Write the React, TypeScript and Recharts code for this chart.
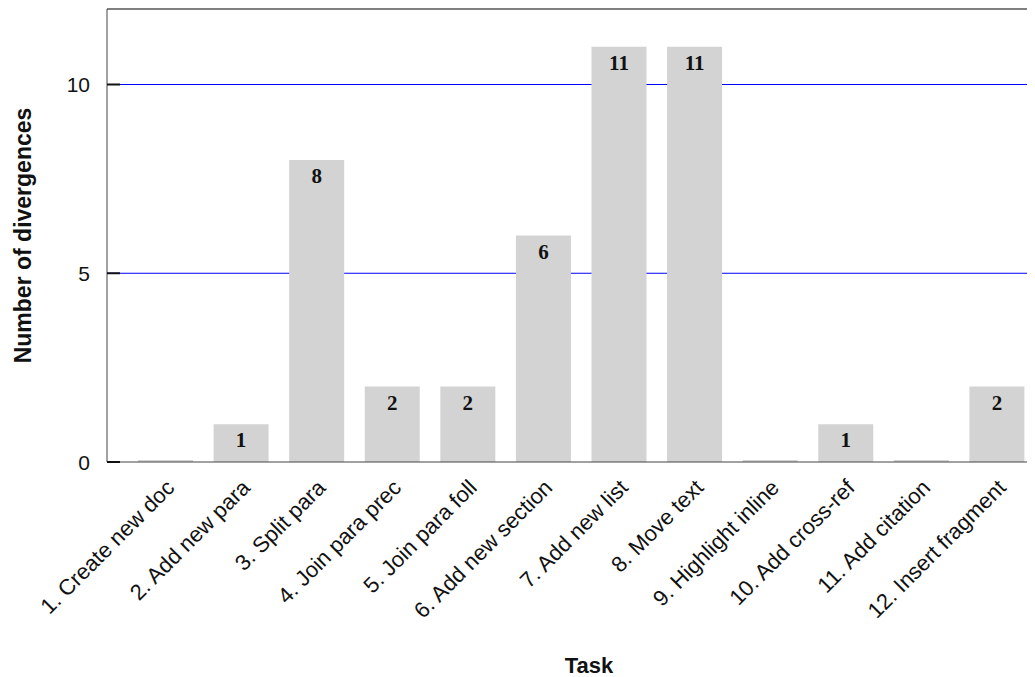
import { BarChart, Bar, XAxis, YAxis, CartesianGrid, ReferenceLine, LabelList, Label } from "recharts";

const tasks = [
  "1. Create new doc",
  "2. Add new para",
  "3. Split para",
  "4. Join para prec",
  "5. Join para foll",
  "6. Add new section",
  "7. Add new list",
  "8. Move text",
  "9. Highlight inline",
  "10. Add cross-ref",
  "11. Add citation",
  "12. Insert fragment",
];
const divergences = [0, 1, 8, 2, 2, 6, 11, 11, 0, 1, 0, 2];
const yTicks = [0, 5, 10];
const gridValues = [5, 10];

const data = tasks.map((task, i) => ({ task, value: divergences[i] }));

const sans = "'Liberation Sans', Arial, sans-serif";

const YTick = (props: any) => {
  const { x, y, payload } = props;
  return (
    <g>
      <text x={x} y={y} textAnchor="end" dominantBaseline="central" fontSize={21} fontFamily={sans} fill="#111">
        {payload.value}
      </text>
      <line x1={x + 17} x2={x + 30} y1={y} y2={y} stroke="#111" strokeWidth={2} />
    </g>
  );
};

const XTick = (props: any) => {
  const { x, y, payload } = props;
  const tx = x + 10;
  const ty = y + 17;
  return (
    <text
      x={tx}
      y={ty}
      textAnchor="end"
      fontSize={22}
      fontFamily={sans}
      fill="#111"
      transform={`rotate(-45 ${tx} ${ty})`}
    >
      {payload.value}
    </text>
  );
};

const BarValue = (props: any) => {
  const { x, y, width, value } = props;
  if (!value) return null;
  return (
    <text
      x={x + width / 2}
      y={y + 16}
      textAnchor="middle"
      dominantBaseline="central"
      fontSize={21}
      fontWeight="bold"
      fontFamily="'Liberation Serif', 'Times New Roman', serif"
      fill="#111"
    >
      {value}
    </text>
  );
};

const TaskLabel = ({ viewBox }: any) => {
  const cx = viewBox.x + viewBox.width / 2 + 18;
  const by = viewBox.y + viewBox.height - 4;
  return (
    <text x={cx} y={by} textAnchor="middle" fontSize={22} fontWeight="bold" fontFamily={sans} fill="#111">
      Task
    </text>
  );
};

const YLabel = ({ viewBox }: any) => {
  const cy = viewBox.y + viewBox.height / 2;
  return (
    <text
      x={15}
      y={cy}
      textAnchor="middle"
      dominantBaseline="central"
      fontSize={23}
      fontWeight="bold"
      fontFamily={sans}
      fill="#111"
      transform={`rotate(-90 15 ${cy})`}
    >
      Number of divergences
    </text>
  );
};

export default function App() {
  return (
    <div style={{ width: 1027, height: 669 }}>
      <BarChart width={1027} height={669} data={data} margin={{ top: 1, right: 0, bottom: 0, left: 0 }}>
        <CartesianGrid horizontal vertical={false} horizontalValues={gridValues} stroke="#0000ff" strokeWidth={1} />
        <XAxis
          dataKey="task"
          interval={0}
          height={215}
          padding={{ left: 21, right: 0 }}
          tickLine={false}
          tickSize={0}
          tickMargin={10}
          tick={<XTick />}
          stroke="#444"
        >
          <Label content={<TaskLabel />} />
        </XAxis>
        <YAxis
          domain={[0, 12]}
          ticks={yTicks}
          width={99}
          tickLine={false}
          tickSize={0}
          tickMargin={17}
          tick={<YTick />}
          stroke="#444"
        >
          <Label content={<YLabel />} />
        </YAxis>
        <ReferenceLine y={12} stroke="#808080" strokeWidth={2} />
        <Bar dataKey="value" fill="#d3d3d3" barSize={55} minPointSize={2} isAnimationActive={false}>
          <LabelList dataKey="value" content={<BarValue />} />
        </Bar>
      </BarChart>
    </div>
  );
}
